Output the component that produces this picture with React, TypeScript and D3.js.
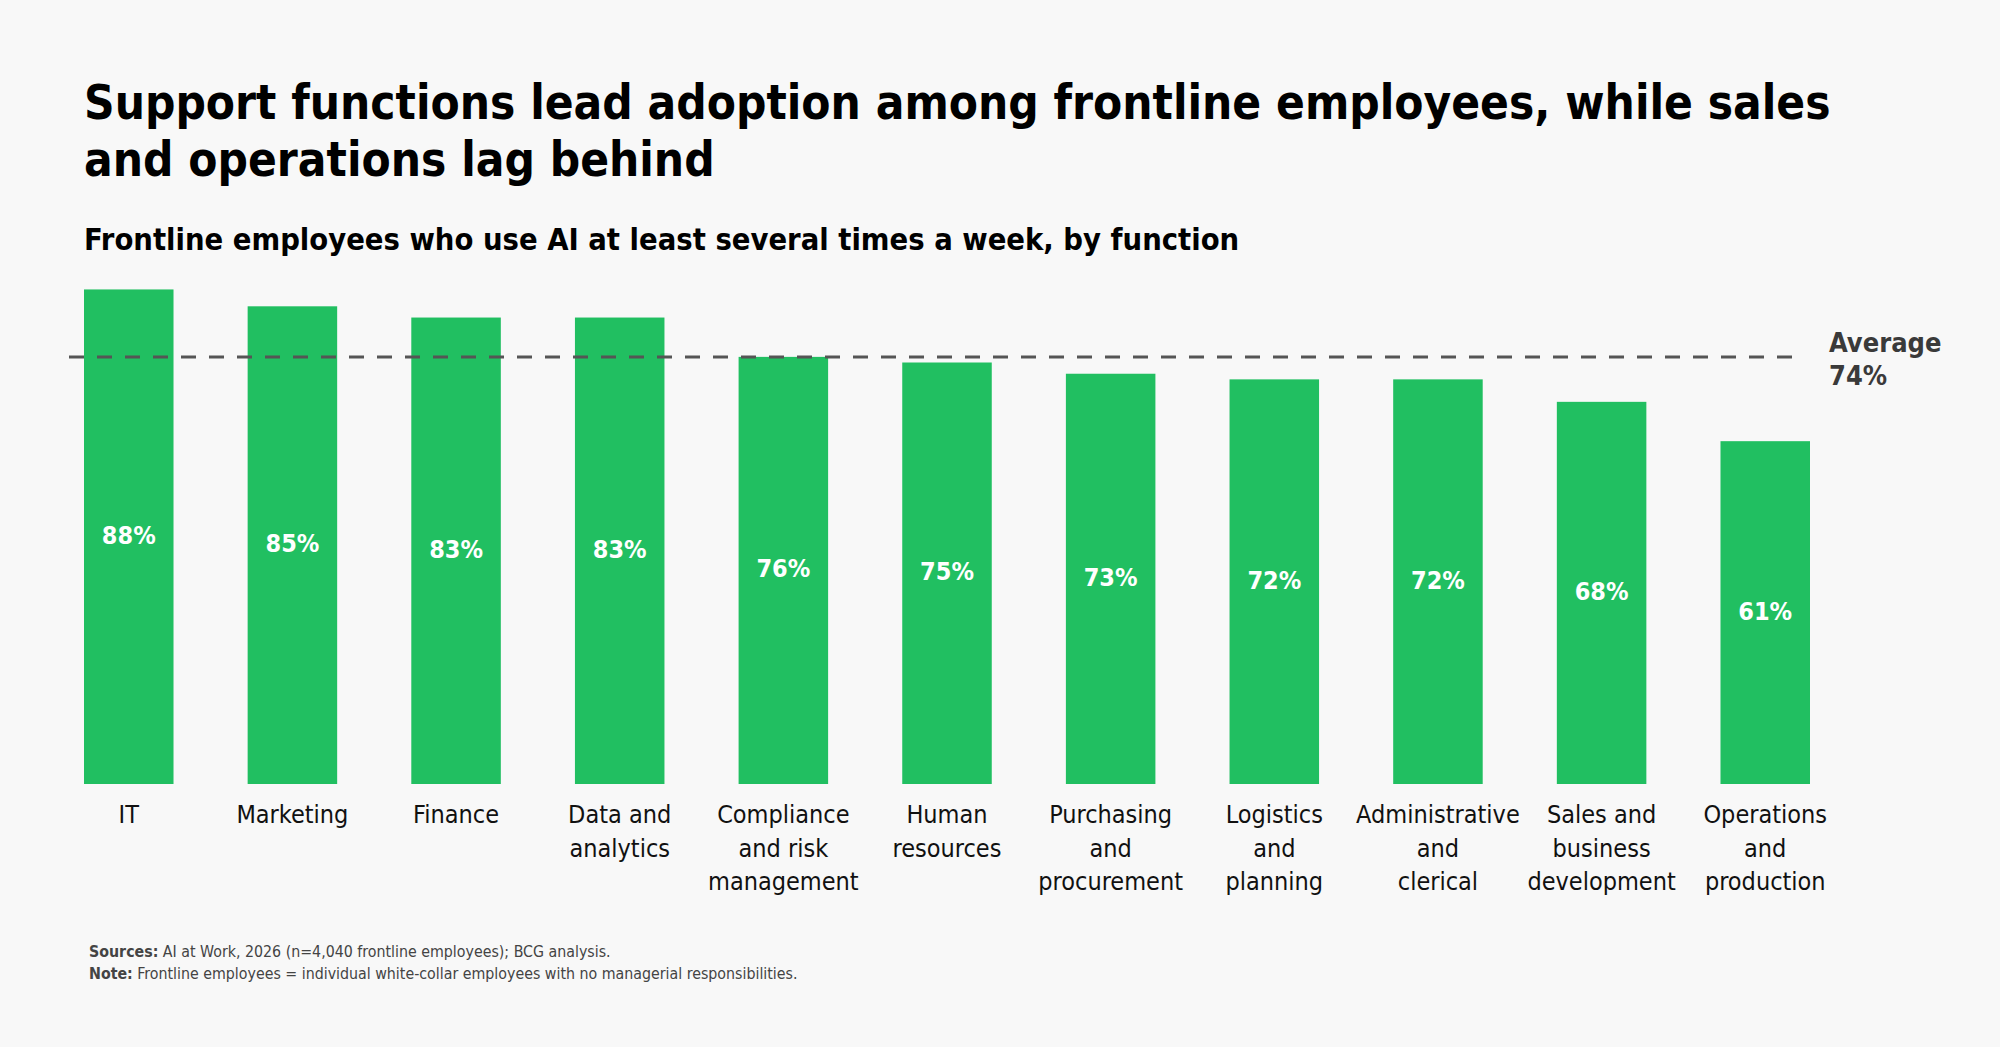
import React, { useEffect, useRef } from 'react';
import * as d3 from 'd3';

const categories = [
	'IT',
	'Marketing',
	'Finance',
	'Data and\nanalytics',
	'Compliance\nand risk\nmanagement',
	'Human\nresources',
	'Purchasing\nand\nprocurement',
	'Logistics\nand\nplanning',
	'Administrative\nand\nclerical',
	'Sales and\nbusiness\ndevelopment',
	'Operations\nand\nproduction',
];
const values = [88, 85, 83, 83, 76, 75, 73, 72, 72, 68, 61];
const averageLabel = 74;
// the dashed line sits at this level in the source chart
const averageLineLevel = 76;

const titleLines = [
	'Support functions lead adoption among frontline employees, while sales',
	'and operations lag behind',
];
const subtitle = 'Frontline employees who use AI at least several times a week, by function';
const footnotes = [
	['Sources:', ' AI at Work, 2026 (n=4,040 frontline employees); BCG analysis.'],
	['Note:', ' Frontline employees = individual white-collar employees with no managerial responsibilities.'],
];

const FONT = '"Liberation Sans Narrow", "DejaVu Sans Condensed", "Roboto Condensed", Roboto, sans-serif';
const GREEN = '#21bf61';

function App() {
	const svgRef = useRef(null);

	useEffect(() => {
		document.body.style.margin = '0';
		document.body.style.background = '#f8f8f8';

		const w = 2000;
		const h = 1047;
		const svg = d3.select(svgRef.current)
			.attr('width', w)
			.attr('height', h)
			.style('background', '#f8f8f8')
			.style('font-family', FONT);
		svg.selectAll('*').remove();

		const x = d3.scaleBand()
			.domain(categories)
			.range([84, 1810])
			.paddingInner(0.453)
			.paddingOuter(0);
		const y = d3.scaleLinear()
			.domain([0, 100])
			.range([784, 222]);

		// titles
		svg.append('g')
			.selectAll('text')
			.data(titleLines)
			.join('text')
			.attr('x', 84)
			.attr('y', (d, i) => 119 + i * 57)
			.attr('font-size', 47.3)
			.attr('font-weight', 700)
			.attr('fill', '#000')
			.text(d => d);

		svg.append('text')
			.attr('x', 84)
			.attr('y', 250)
			.attr('font-size', 30.6)
			.attr('font-weight', 700)
			.attr('fill', '#000')
			.text(subtitle);

		// bars
		svg.append('g')
			.selectAll('rect')
			.data(values)
			.join('rect')
			.attr('x', (d, i) => x(categories[i]))
			.attr('y', d => y(d))
			.attr('width', x.bandwidth())
			.attr('height', d => y(0) - y(d))
			.attr('fill', GREEN);

		// value labels
		svg.append('g')
			.selectAll('text')
			.data(values)
			.join('text')
			.attr('x', (d, i) => x(categories[i]) + x.bandwidth() / 2)
			.attr('y', d => (y(d) + y(0)) / 2)
			.attr('text-anchor', 'middle')
			.attr('dominant-baseline', 'middle')
			.attr('font-size', 25)
			.attr('font-weight', 700)
			.attr('fill', '#fff')
			.text(d => d + '%');

		// average line
		svg.append('line')
			.attr('x1', 69)
			.attr('x2', 1800)
			.attr('y1', y(averageLineLevel))
			.attr('y2', y(averageLineLevel))
			.attr('stroke', '#555')
			.attr('stroke-width', 3)
			.attr('stroke-dasharray', '15 13');

		const avg = svg.append('text')
			.attr('x', 1829)
			.attr('font-size', 27)
			.attr('font-weight', 700)
			.attr('fill', '#3a3a3a');
		avg.append('tspan').attr('x', 1829).attr('y', y(averageLineLevel) - 5).text('Average');
		avg.append('tspan').attr('x', 1829).attr('y', y(averageLineLevel) + 28).text(averageLabel + '%');

		// category labels
		const cat = svg.append('g')
			.selectAll('text')
			.data(categories)
			.join('text')
			.attr('text-anchor', 'middle')
			.attr('font-size', 25)
			.attr('fill', '#111');
		cat.selectAll('tspan')
			.data(d => d.split('\n').map(line => ({ line, c: d })))
			.join('tspan')
			.attr('x', d => x(d.c) + x.bandwidth() / 2)
			.attr('y', (d, i) => 823 + i * 33.5)
			.text(d => d.line);

		// footnotes
		const foot = svg.append('g')
			.selectAll('text')
			.data(footnotes)
			.join('text')
			.attr('x', 89)
			.attr('y', (d, i) => 957 + i * 22)
			.attr('font-size', 15.8)
			.attr('fill', '#444');
		foot.append('tspan').attr('font-weight', 700).text(d => d[0]);
		foot.append('tspan').text(d => d[1]);
	}, []);

	return (
		<div>
			<svg ref={svgRef} style={{ display: 'block' }} />
		</div>
	);
}

export default App;
